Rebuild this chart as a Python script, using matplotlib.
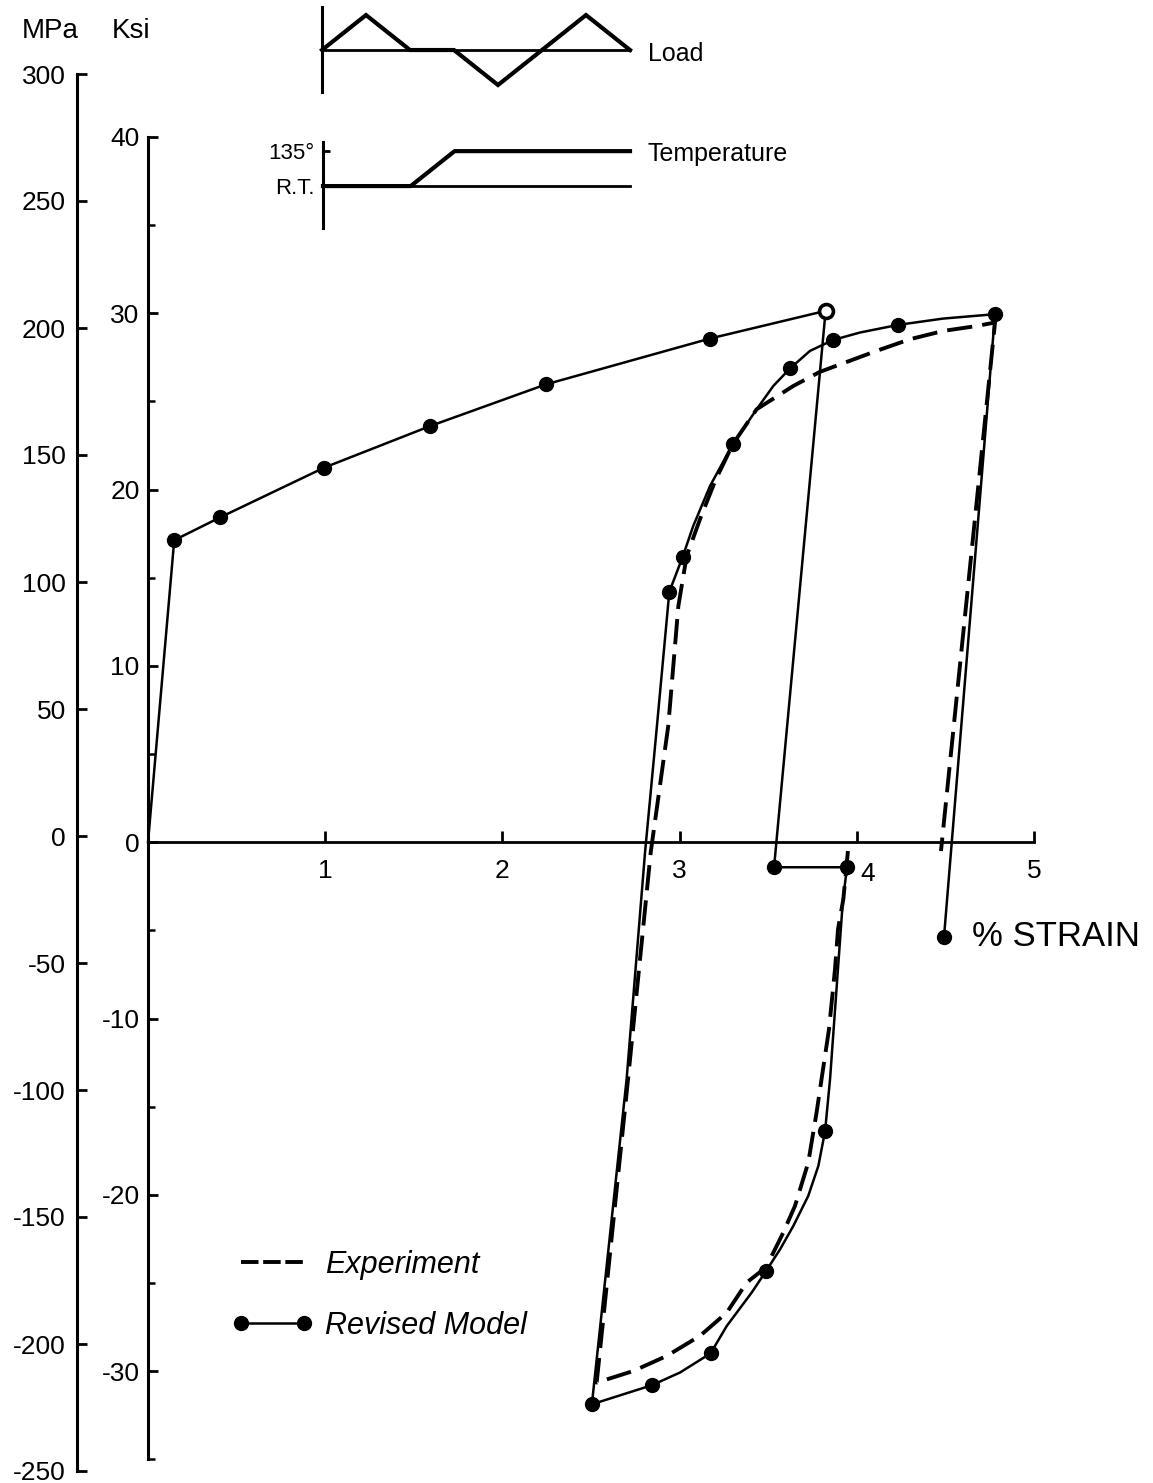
import matplotlib
matplotlib.use("Agg")
import matplotlib.pyplot as plt
import matplotlib.transforms as mtransforms
from matplotlib.lines import Line2D

# ---------------- data (strain in %, stress in ksi) ----------------
model_strain = [0.0, 0.148, 0.406, 0.995, 1.591, 2.246, 3.172, 3.824,
                3.533, 3.945, 3.922, 3.849, 3.821, 3.783, 3.726, 3.642,
                3.567, 3.488, 3.407, 3.266, 3.175, 3.002, 2.843, 2.505,
                2.701, 2.805, 2.872, 2.942, 3.017, 3.077, 3.172, 3.300,
                3.435, 3.529, 3.623, 3.736, 3.867, 4.018, 4.231, 4.486,
                4.780, 4.492]
model_ksi = [0.0, 17.13, 18.42, 21.25, 23.60, 25.97, 28.57, 30.14,
             -1.42, -1.42, -3.23, -13.44, -16.38, -18.36, -20.06, -21.76,
             -23.09, -24.32, -25.54, -27.44, -28.99, -30.08, -30.80, -31.88,
             -13.44, -0.57, 6.58, 14.20, 16.18, 17.94, 20.21, 22.57,
             24.56, 25.88, 26.87, 27.87, 28.49, 28.91, 29.34, 29.70,
             29.95, -5.39]

dot_strain = [0.148, 0.406, 0.995, 1.591, 2.246, 3.172, 3.533, 3.945,
              3.821, 3.488, 3.175, 2.843, 2.505, 2.942, 3.017, 3.300,
              3.623, 3.867, 4.231, 4.780, 4.492]
dot_ksi = [17.13, 18.42, 21.25, 23.60, 25.97, 28.57, -1.42, -1.42,
           -16.38, -24.32, -28.99, -30.80, -31.88, 14.20, 16.18, 22.57,
           26.87, 28.49, 29.34, 29.95, -5.39]

open_strain = [3.824]
open_ksi = [30.14]

exp_strain = [3.950, 3.924, 3.894, 3.877, 3.843, 3.801, 3.773, 3.726,
              3.651, 3.585, 3.488, 3.379, 3.266, 3.115, 2.927, 2.739,
              2.532, 2.709, 2.837, 2.936, 2.993, 3.040, 3.115, 3.200,
              3.300, 3.435, 3.642, 3.792, 3.924, 4.112, 4.300, 4.488,
              4.677, 4.780, 4.475]
exp_ksi = [-0.5, -3.23, -4.93, -7.20, -10.61, -13.44, -15.33, -18.17,
           -20.63, -22.14, -24.11, -24.97, -26.68, -28.00, -29.14, -29.99,
           -30.65, -13.44, -0.57, 6.60, 13.40, 16.24, 18.32, 20.48,
           22.57, 24.56, 25.88, 26.68, 27.17, 27.87, 28.53, 29.00,
           29.28, 29.48, -0.5]

strain_ticks = [1, 2, 3, 4, 5]
ksi_ticks = [-30, -20, -10, 0, 10, 20, 30, 40]
ksi_minor = [-35, -25, -15, -5, 5, 15, 25, 35]
mpa_ticks = [-250, -200, -150, -100, -50, 0, 50, 100, 150, 200, 250, 300]

# schematic waveforms of the inset sketches
load_time = [0, 1, 2, 3, 4, 5, 6, 7]
load_value = [0, 1, 0, 0, -1, 0, 1, 0]
temp_time = [0, 2, 3, 7]
temp_value = [0, 0, 1, 1]
temp_tick_labels = ["R.T.", "135°"]

# ---------------- figure ----------------
W, H = 1153, 1483
plt.rcParams['font.family'] = ['Liberation Sans', 'DejaVu Sans']
fig = plt.figure(figsize=(W / 100, H / 100), dpi=100)


def fx(px):
    return px / W


def fy(py):
    return 1 - py / H


# main axes in ksi / strain
top_px, bot_px = 137.0, 1459.3
ax = fig.add_axes([fx(148), fy(bot_px), (1034 - 148) / W, (bot_px - top_px) / H])
ax.set_xlim(0, 5)
ax.set_ylim(-35, 40)
ax.patch.set_visible(False)
for s in ['top', 'right']:
    ax.spines[s].set_visible(False)
ax.spines['left'].set_bounds(-35, 40)
ax.spines['left'].set_linewidth(2.2)
ax.spines['bottom'].set_position(('data', 0))
ax.spines['bottom'].set_bounds(0, 5)
ax.spines['bottom'].set_linewidth(2.0)
ax.set_xticks(strain_ticks)
ax.set_xticklabels([str(t) for t in strain_ticks])
ax.set_yticks(ksi_ticks)
ax.set_yticklabels([str(t) for t in ksi_ticks])
ax.set_yticks(ksi_minor, minor=True)
ax.tick_params(axis='x', direction='in', length=8, width=2, pad=12, labelsize=19)
ax.tick_params(axis='y', which='major', direction='in', length=7, width=2, pad=6, labelsize=19)
ax.tick_params(axis='y', which='minor', direction='in', length=5, width=1.8)
# the "4" label sits a little right of its tick in the original
lab4 = ax.get_xticklabels()[3]
lab4.set_transform(lab4.get_transform() +
                   mtransforms.ScaledTranslation(11 / 100, -3 / 100, fig.dpi_scale_trans))

# MPa axis
ax_m = fig.add_axes([fx(77), fy(1471), 0.001, (1471 - 74) / H])
ax_m.set_ylim(-250, 300)
ax_m.patch.set_visible(False)
for s in ['top', 'right', 'bottom']:
    ax_m.spines[s].set_visible(False)
ax_m.spines['left'].set_linewidth(2.2)
ax_m.set_xticks([])
ax_m.set_yticks(mpa_ticks)
ax_m.set_yticklabels([str(t) for t in mpa_ticks])
ax_m.tick_params(axis='y', direction='in', length=7, width=2, pad=8, labelsize=19)

fig.text(fx(50), fy(31), "MPa", ha='center', va='center', fontsize=20)
fig.text(fx(131), fy(31), "Ksi", ha='center', va='center', fontsize=20)

# curves
ax.plot(exp_strain, exp_ksi, color='black', lw=2.8, ls=(0, (6.5, 2.6)),
        clip_on=False, zorder=3)
ax.plot(model_strain, model_ksi, color='black', lw=1.8, clip_on=False,
        solid_joinstyle='round', zorder=4)
ax.plot(dot_strain, dot_ksi, 'o', ms=10, color='black', clip_on=False, zorder=5)
ax.plot(open_strain, open_ksi, 'o', ms=10, mfc='white', mec='black', mew=2.6,
        clip_on=False, zorder=5)

fig.text(fx(972), fy(937), "% STRAIN", ha='left', va='center', fontsize=25)

# legend
h_exp = Line2D([], [], color='black', lw=2.8, ls=(0, (4.5, 1.2)))
h_mod = Line2D([], [], color='black', lw=1.8, marker='o', ms=10)
leg = ax.legend([h_exp, h_mod], ["Experiment", "Revised Model"],
                loc='upper left', bbox_to_anchor=(fx(232), fy(1250)),
                bbox_transform=fig.transFigure, frameon=False, numpoints=2,
                handlelength=2.65, handletextpad=0.4, labelspacing=1.0,
                borderpad=0, borderaxespad=0,
                prop={'size': 22, 'style': 'italic'})

# inset: load sketch
ax_l = fig.add_axes([fx(322), fy(92), 308 / W, 85 / H])
ax_l.set_xlim(0, 7)
ax_l.set_ylim(-1.2, 1.23)
ax_l.patch.set_visible(False)
for s in ['top', 'right', 'bottom']:
    ax_l.spines[s].set_visible(False)
ax_l.spines['left'].set_linewidth(2.2)
ax_l.set_xticks([])
ax_l.set_yticks([])
ax_l.plot([load_time[0], load_time[-1]], [0, 0], color='black', lw=2.0, clip_on=False)
ax_l.plot(load_time, load_value, color='black', lw=3.0, clip_on=False,
          solid_joinstyle='miter')
fig.text(fx(648), fy(54), "Load", ha='left', va='center', fontsize=18)

# inset: temperature sketch
ax_t = fig.add_axes([fx(323), fy(228), 307 / W, (228 - 141.7) / H])
ax_t.set_xlim(0, 7)
ax_t.set_ylim(-1.2, 1.27)
ax_t.patch.set_visible(False)
for s in ['top', 'right', 'bottom']:
    ax_t.spines[s].set_visible(False)
ax_t.spines['left'].set_linewidth(2.2)
ax_t.set_xticks([])
ax_t.set_yticks([0, 1])
ax_t.set_yticklabels(temp_tick_labels)
ax_t.tick_params(axis='y', direction='in', length=5, width=2, pad=6, labelsize=16)
ax_t.plot([temp_time[0], temp_time[-1]], [0, 0], color='black', lw=2.0, clip_on=False)
ax_t.plot(temp_time, temp_value, color='black', lw=3.0, clip_on=False)
fig.text(fx(648), fy(154), "Temperature", ha='left', va='center', fontsize=18)

fig.savefig("out.png", dpi=100)
